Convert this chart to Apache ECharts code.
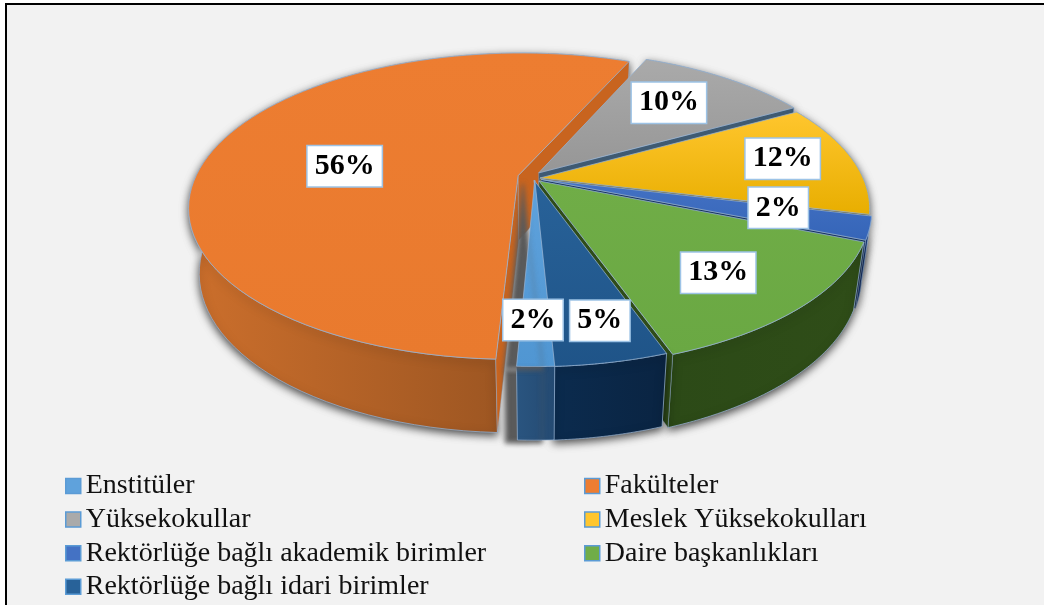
<!DOCTYPE html>
<html>
<head>
<meta charset="utf-8">
<style>
  html, body { margin: 0; background: #f2f2f2; }
  #main { width: 1044px; height: 605px; }
</style>
<script src="https://cdn.jsdelivr.net/npm/echarts@6/dist/echarts.min.js"></script>
</head>
<body>
<div id="main"></div>
<script>
const categories = ['Enstitüler', 'Fakülteler', 'Yüksekokullar', 'Meslek Yüksekokulları', 'Rektörlüğe bağlı akademik birimler', 'Daire başkanlıkları', 'Rektörlüğe bağlı idari birimler']
// shares, they round to the printed labels
const values = [1.5, 55.8, 10.4, 11.9, 2.4, 13.4, 4.6]

const topColors = [['#5fa2dc', '#5096d2'], ['#ed7d31', '#e97a2e'], ['#aaaaaa', '#969696'], ['#ffc62e', '#e8ae00'], ['#4472c4', '#3565b8'], ['#70ad47', '#6aa843'], ['#286299', '#1f5488']]
const sideColors = [['#2a5580', '#244a72'], ['#cc6f2c', '#8a4c1e'], ['#6a6a6a', '#6a6a6a'], ['#a87f10', '#a87f10'], ['#1f4285', '#1b3a78'], ['#2c4a17', '#2f4d18'], ['#0b2b4e', '#0a2442']]
const wallColors = ['#1f4e79', '#c8641f', '#3f5a72', '#6b5a20', '#16335f', '#2f4c19', '#123a63']
const explodeX = [-0.016, -0.068, -0.004, 0, 0.004, -0.003, -0.018]
const explodeZ = [-0.015, 0.016, 0.035, 0, -0.01, -0.02, -0.016]
const labelRadius = [0.805, 0.62, 0.72, 0.783, 0.735, 0.749, 0.823]
const labelShift = [1.6, -5.3, -3.9, -2, -2.6, 2.9, 0.4]
const paintOrder = [6, 0, 1, 2, 3, 4, 5]

// perspective ellipse of the pie
const cx = 540, cy = 178, rx = 323, ry = 148, persp = 0.2
const depth = 66.6, depthPersp = 0.03
const startAngle = 177
const total = values.reduce((a, b) => a + b, 0)
const edge = 'rgba(150,178,210,0.75)'

function project(t, r, ex, ez, low) {
  let a = t * Math.PI / 180
  let x = r * Math.sin(a) + ex
  let z = r * Math.cos(a) + ez
  let w = 1 + persp * z + (low ? depthPersp : 0)
  return [cx + rx * x / w, cy + (-ry * z + (low ? depth : 0)) / w]
}

function gradient(c, horizontal) {
  return new echarts.graphic.LinearGradient(0, 0, horizontal ? 1 : 0, horizontal ? 0 : 1, [
    { offset: 0, color: c[0] },
    { offset: 1, color: c[1] }
  ])
}

function sliceRange(i) {
  let from = startAngle
  for (let k = 0; k < i; k++) from += values[k] / total * 360
  return [from, from + values[i] / total * 360]
}

function arc(from, to, ex, ez, low) {
  let pts = []
  for (let n = 0; n <= 80; n++) pts.push(project(from + (to - from) * n / 80, 1, ex, ez, low))
  return pts
}

function renderSlice(i) {
  return function() {
    let [from, to] = sliceRange(i)
    let mid = (from + to) / 2
    let ex = explodeX[i], ez = explodeZ[i]
    let base = paintOrder[i] * 10
    let topArc = arc(from, to, ex, ez, false)
    let lowArc = arc(from, to, ex, ez, true)
    let apexTop = project(0, 0, ex, ez, false)
    let apexLow = project(0, 0, ex, ez, true)
    let n = topArc.length - 1
    let children = []
    // the light blue slice throws its shadow on the orange one
    let blur = i === 0 ? { shadowBlur: 5, shadowColor: 'rgba(90,90,90,1)', shadowOffsetX: -12, shadowOffsetY: 3 }
      : { shadowBlur: 9, shadowColor: 'rgba(0,0,0,0.7)', shadowOffsetY: 3 }
    children.push({
      type: 'polygon',
      z2: base,
      shape: { points: topArc.concat(lowArc.slice().reverse()) },
      style: Object.assign({ fill: gradient(sideColors[i], true), stroke: edge, lineWidth: 1 }, blur)
    })
    // only the cut faces turned to the viewer
    if (Math.sin(from * Math.PI / 180) < 0) {
      children.push({
        type: 'polygon',
        z2: base + 1,
        shape: { points: [apexTop, topArc[0], lowArc[0], apexLow] },
        style: { fill: wallColors[i], stroke: edge, lineWidth: 0.5 }
      })
    }
    if (Math.sin(to * Math.PI / 180) > 0) {
      children.push({
        type: 'polygon',
        z2: base + 1,
        shape: { points: [apexTop, topArc[n], lowArc[n], apexLow] },
        style: { fill: wallColors[i], stroke: edge, lineWidth: 0.5 }
      })
    }
    children.push({
      type: 'polygon',
      z2: base + 2,
      shape: { points: [apexTop].concat(topArc) },
      style: Object.assign({ fill: gradient(topColors[i], false), stroke: edge, lineWidth: 1 }, i === 0 ? blur : {})
    })
    let at = project(mid + labelShift[i], labelRadius[i], 0, 0, false)
    children.push({
      type: 'text',
      z2: 500,
      style: {
        x: at[0],
        y: at[1],
        text: Math.round(values[i]) + '%',
        align: 'center',
        verticalAlign: 'middle',
        fill: '#000',
        font: 'bold 30px "Liberation Serif"',
        lineHeight: 32,
        backgroundColor: '#fff',
        borderColor: '#9dc3e6',
        borderWidth: 1.5,
        padding: [4, 7, 4, 7]
      }
    })
    return { type: 'group', children: children }
  }
}

const legendText = { fontFamily: 'Liberation Serif', fontSize: 28, color: '#111' }
const legendIcon = { borderColor: '#5b9bd5', borderWidth: 1.5 }

let myChart = echarts.init(document.getElementById('main'), null, { renderer: 'canvas' })
myChart.setOption({
  animation: false,
  backgroundColor: '#f2f2f2',
  legend: [
    {
      orient: 'vertical', left: 65, top: 472, padding: 0, height: 132, itemWidth: 15, itemHeight: 15, itemGap: 5.6,
      icon: 'rect', selectedMode: false, textStyle: legendText, itemStyle: legendIcon,
      data: [categories[0], categories[2], categories[4], categories[6]]
    },
    {
      orient: 'vertical', left: 584, top: 472, padding: 0, height: 132, itemWidth: 15, itemHeight: 15, itemGap: 5.6,
      icon: 'rect', selectedMode: false, textStyle: legendText, itemStyle: legendIcon,
      data: [categories[1], categories[3], categories[5]]
    }
  ],
  graphic: [
    { type: 'rect', z: 100, shape: { x: 0, y: 0, width: 5, height: 605 }, style: { fill: '#fff' } },
    { type: 'rect', z: 100, shape: { x: 0, y: 0, width: 1044, height: 3 }, style: { fill: '#fff' } },
    { type: 'rect', z: 101, shape: { x: 5, y: 3, width: 2, height: 602 }, style: { fill: '#000' } },
    { type: 'rect', z: 101, shape: { x: 5, y: 3, width: 1039, height: 2 }, style: { fill: '#000' } }
  ],
  series: categories.map((name, i) => ({
    type: 'custom',
    name: name,
    coordinateSystem: 'none',
    silent: true,
    itemStyle: { color: topColors[i][0] },
    renderItem: renderSlice(i),
    data: [values[i]]
  }))
})
</script>
</body>
</html>
